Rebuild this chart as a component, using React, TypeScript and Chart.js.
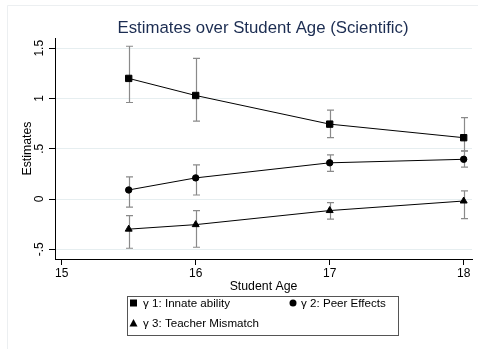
import React, { useEffect, useRef } from "react";
import { Chart, registerables } from "chart.js";

Chart.register(...registerables);

const ages = [15.5, 16, 17, 18];
const gamma1 = [1.2, 1.03, 0.745, 0.61];
const gamma1Lo = [0.96, 0.775, 0.61, 0.48];
const gamma1Hi = [1.52, 1.4, 0.885, 0.81];
const gamma2 = [0.09, 0.21, 0.36, 0.395];
const gamma2Lo = [-0.08, 0.04, 0.275, 0.318];
const gamma2Hi = [0.22, 0.34, 0.44, 0.477];
const gamma3 = [-0.3, -0.255, -0.115, -0.02];
const gamma3Lo = [-0.49, -0.48, -0.2, -0.195];
const gamma3Hi = [-0.165, -0.115, -0.036, 0.08];

const xTicks = [15, 16, 17, 18];
const yTicks = [-0.5, 0, 0.5, 1, 1.5];
const yTickLabels = ["-.5", "0", ".5", "1", "1.5"];
const seriesNames = ["γ 1: Innate ability", "γ 2: Peer Effects", "γ 3: Teacher Mismatch"];
const titleText = "Estimates over Student Age (Scientific)";
const xTitle = "Student Age";
const yTitle = "Estimates";

const FONT = "'Liberation Sans', Arial, Helvetica, sans-serif";
const lows = [gamma1Lo, gamma2Lo, gamma3Lo];
const highs = [gamma1Hi, gamma2Hi, gamma3Hi];

const decorPlugin = {
  id: "decor",
  beforeDraw(chart: any) {
    const ctx = chart.ctx;
    ctx.save();
    ctx.fillStyle = "#ffffff";
    ctx.fillRect(0, 0, chart.width, chart.height);
    ctx.strokeStyle = "#eceff1";
    ctx.lineWidth = 1;
    ctx.beginPath();
    ctx.moveTo(7.5, chart.height);
    ctx.lineTo(7.5, 5.5);
    ctx.lineTo(chart.width, 5.5);
    ctx.stroke();
    ctx.restore();
  },
  beforeDatasetsDraw(chart: any) {
    const ctx = chart.ctx;
    const xs = chart.scales.x;
    const ys = chart.scales.y;
    ctx.save();
    ctx.strokeStyle = "#8a8a8a";
    ctx.lineWidth = 1.2;
    for (let s = 0; s < lows.length; s++) {
      for (let j = 0; j < ages.length; j++) {
        const x = Math.round(xs.getPixelForValue(ages[j])) + 0.5;
        const y1 = ys.getPixelForValue(lows[s][j]);
        const y2 = ys.getPixelForValue(highs[s][j]);
        ctx.beginPath();
        ctx.moveTo(x, y1);
        ctx.lineTo(x, y2);
        ctx.moveTo(x - 3.5, y1);
        ctx.lineTo(x + 3.5, y1);
        ctx.moveTo(x - 3.5, y2);
        ctx.lineTo(x + 3.5, y2);
        ctx.stroke();
      }
    }
    ctx.restore();
  },
  afterDraw(chart: any) {
    const ctx = chart.ctx;
    const ys = chart.scales.y;
    ctx.save();
    // title
    ctx.fillStyle = "#1c2d52";
    ctx.font = `16.8px ${FONT}`;
    ctx.textAlign = "center";
    ctx.textBaseline = "alphabetic";
    ctx.fillText(titleText, 263, 32.5);
    // y tick labels rotated
    ctx.fillStyle = "#000";
    ctx.font = `12px ${FONT}`;
    for (let i = 0; i < yTicks.length; i++) {
      const y = ys.getPixelForValue(yTicks[i]);
      ctx.save();
      ctx.translate(39.5, y);
      ctx.rotate(-Math.PI / 2);
      ctx.textAlign = "center";
      ctx.textBaseline = "middle";
      ctx.fillText(yTickLabels[i], 0, 0);
      ctx.restore();
    }
    // legend
    ctx.strokeStyle = "#555";
    ctx.lineWidth = 1;
    ctx.strokeRect(127.5, 296.5, 271, 39);
    ctx.fillStyle = "#000";
    ctx.textAlign = "left";
    ctx.textBaseline = "middle";
    ctx.font = `11.6px ${FONT}`;
    // square
    ctx.fillRect(130, 299.5, 7, 7);
    ctx.fillText(seriesNames[0], 143, 303.5);
    // circle
    ctx.beginPath();
    ctx.arc(293, 303, 3.5, 0, Math.PI * 2);
    ctx.fill();
    ctx.fillText(seriesNames[1], 301, 303.5);
    // triangle
    ctx.beginPath();
    ctx.moveTo(133.5, 319);
    ctx.lineTo(137.5, 326.5);
    ctx.lineTo(129.5, 326.5);
    ctx.closePath();
    ctx.fill();
    ctx.fillText(seriesNames[2], 143, 323.5);
    ctx.restore();
  },
};

export default function App() {
  const ref = useRef<HTMLCanvasElement>(null);
  useEffect(() => {
    document.body.style.margin = "0";
    const mk = (d: number[], style: string, r: number) => ({
      data: ages.map((a, i) => ({ x: a, y: d[i] })),
      borderColor: "#000",
      backgroundColor: "#000",
      borderWidth: 1,
      pointStyle: style,
      pointRadius: r,
      pointBackgroundColor: "#000",
      pointBorderColor: "#000",
      pointBorderWidth: 1,
      tension: 0,
      fill: false,
    });
    const chart = new Chart(ref.current!, {
      type: "line",
      data: {
        datasets: [
          { label: seriesNames[0], ...mk(gamma1, "rect", 4.5) },
          { label: seriesNames[1], ...mk(gamma2, "circle", 3.2) },
          { label: seriesNames[2], ...mk(gamma3, "triangle", 4) },
        ] as any,
      },
      options: {
        responsive: false,
        animation: false,
        layout: { padding: { top: 38, right: 6, left: 0, bottom: 0 } },
        plugins: { legend: { display: false }, tooltip: { enabled: false }, title: { display: false } },
        scales: {
          x: {
            type: "linear",
            min: 14.95,
            max: 18.062,
            afterBuildTicks: (s: any) => {
              s.ticks = xTicks.map((v) => ({ value: v }));
            },
            afterFit: (s: any) => {
              s.height = 90;
            },
            grid: { drawOnChartArea: false, drawTicks: true, tickLength: 6, tickColor: "#000" },
            border: { display: true, color: "#000", width: 1 },
            ticks: {
              color: "#000",
              font: { family: FONT, size: 12 },
              padding: 1,
              maxRotation: 0,
              callback: (v: any) => String(v),
            },
            title: {
              display: true,
              text: xTitle,
              color: "#000",
              font: { family: FONT, size: 12.3 },
              padding: { top: 0, bottom: 55 },
            },
          },
          y: {
            type: "linear",
            min: -0.597,
            max: 1.602,
            afterBuildTicks: (s: any) => {
              s.ticks = yTicks.map((v) => ({ value: v }));
            },
            afterFit: (s: any) => {
              s.width = 55;
            },
            grid: { color: "#e6eef0", drawTicks: true, tickLength: 6, tickColor: "#000" },
            border: { display: true, color: "#000", width: 1 },
            ticks: { display: false },
            title: {
              display: true,
              text: yTitle,
              color: "#000",
              font: { family: FONT, size: 12.3 },
              padding: { top: 20, bottom: 0 },
            },
          },
        },
      },
      plugins: [decorPlugin],
    });
    return () => chart.destroy();
  }, []);
  return (
    <div style={{ width: 478, height: 349 }}>
      <canvas ref={ref} width={478} height={349} />
    </div>
  );
}
